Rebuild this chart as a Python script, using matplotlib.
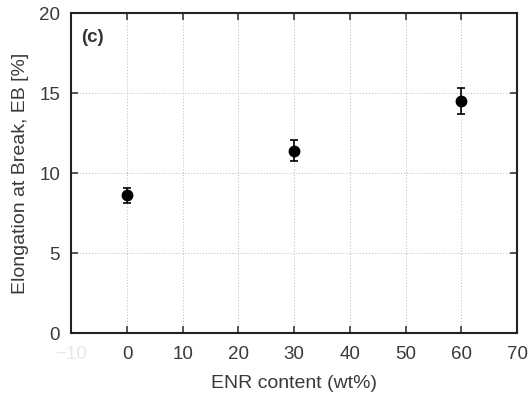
import matplotlib
matplotlib.use("Agg")
import matplotlib.pyplot as plt

enr = [0, 30, 60]
eb = [8.6, 11.4, 14.5]
eb_err = [0.45, 0.65, 0.8]
xticks = [-10, 0, 10, 20, 30, 40, 50, 60, 70]
yticks = [0, 5, 10, 15, 20]

plt.rcParams['font.family'] = ['Liberation Sans', 'DejaVu Sans']
fig = plt.figure(figsize=(5.32, 3.96), dpi=100)
ax = fig.add_axes([0.134, 0.159, 0.838, 0.808])

for x in xticks[1:-1]:
    ax.axvline(x, color='#b8b8b8', ls=(0, (1, 2)), lw=0.7, zorder=0)
for y in yticks[1:-1]:
    ax.axhline(y, color='#b8b8b8', ls=(0, (1, 2)), lw=0.7, zorder=0)

ax.errorbar(enr, eb, yerr=eb_err, fmt='o', color='black', ms=7.5, capsize=3, elinewidth=1.2, capthick=1.2)

ax.set_xlim(-10, 70)
ax.set_ylim(0, 20)
ax.set_xticks(xticks)
ax.set_yticks(yticks)
ax.tick_params(direction='in', top=True, right=True, labelsize=13.5, colors='#3a3a3a', length=5, width=1.2)
ax.tick_params(axis='x', pad=9)
ax.tick_params(axis='y', pad=8)
labels = ax.get_xticklabels()
labels[0].set_color('#e8e8e8')
for s in ax.spines.values():
    s.set_linewidth(1.5)
    s.set_color('#222222')
ax.set_xlabel('ENR content (wt%)', fontsize=14, color='#3a3a3a', labelpad=9)
ax.set_ylabel('Elongation at Break, EB [%]', fontsize=14, color='#3a3a3a', labelpad=7)
ax.text(0.022, 0.95, '(c)', transform=ax.transAxes, fontsize=13.5, fontweight='bold', color='#333333', va='top')

fig.savefig('out.png', dpi=100)
